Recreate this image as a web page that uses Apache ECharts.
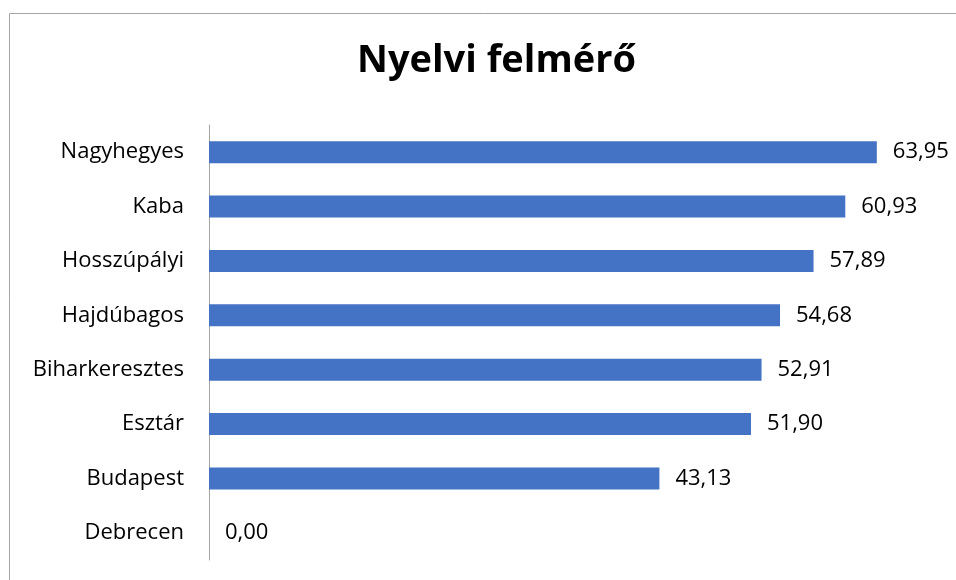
<!DOCTYPE html>
<html lang="hu">
<head>
  <meta charset="UTF-8">
  <title>Nyelvi felmérő</title>
  <style>
    html, body { margin: 0; padding: 0; background: #fff; }
  </style>
</head>
<body>
  <div id="main" style="width: 956px; height: 580px"></div>
  <script src="https://cdn.jsdelivr.net/npm/echarts@6/dist/echarts.min.js"></script>
  <script>
    // adatok (fentről lefelé)
    const categories = ['Nagyhegyes', 'Kaba', 'Hosszúpályi', 'Hajdúbagos', 'Biharkeresztes', 'Esztár', 'Budapest', 'Debrecen']
    const values = [63.95, 60.93, 57.89, 54.68, 52.91, 51.90, 43.13, 0.00]

    const font = '"Open Sans", sans-serif'
    const myChart = echarts.init(document.getElementById('main'))

    const option = {
      animation: false,
      title: {
        text: 'Nyelvi felmérő',
        left: 352,
        top: 37,
        textStyle: { fontFamily: font, fontSize: 38, fontWeight: 'bold', color: '#000' }
      },
      // keret a diagram körül
      graphic: [{
        type: 'rect',
        shape: { x: 9.5, y: 13.5, width: 1000, height: 1000 },
        style: { fill: 'none', stroke: '#a6a6a6', lineWidth: 1 },
        silent: true
      }],
      grid: { left: 209, right: 16, top: 125, bottom: 20, containLabel: false },
      xAxis: {
        type: 'value',
        min: 0,
        max: 70,
        show: false
      },
      yAxis: {
        type: 'category',
        inverse: true,
        data: categories,
        axisLine: { lineStyle: { color: '#a6a6a6', width: 1 } },
        axisTick: { show: false },
        axisLabel: { fontFamily: font, fontSize: 22, color: '#000', margin: 25 }
      },
      series: [{
        type: 'bar',
        data: values,
        barWidth: 22,
        itemStyle: { color: '#4472c4' },
        label: {
          show: true,
          position: 'right',
          distance: 16,
          fontFamily: font,
          fontSize: 22,
          color: '#000',
          formatter: p => p.value.toFixed(2).replace('.', ',')
        }
      }]
    }

    myChart.setOption(option)
  </script>
</body>
</html>
